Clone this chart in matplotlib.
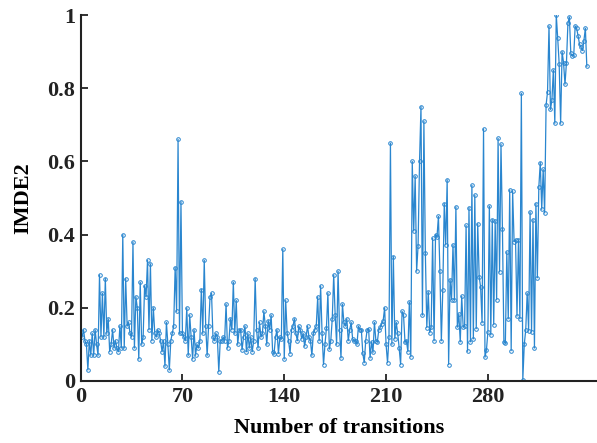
import numpy as np
import matplotlib
matplotlib.use("Agg")
import matplotlib.pyplot as plt

# IMDE2 values (one per transition, starting at 1)
seg_a = [0.12, 0.14, 0.11, 0.10, 0.03, 0.11, 0.07, 0.13, 0.07, 0.14,
         0.10, 0.07, 0.29, 0.12, 0.24, 0.12, 0.28, 0.13, 0.17, 0.08,
         0.10, 0.14, 0.09, 0.11, 0.09, 0.08, 0.15, 0.09, 0.40, 0.09,
         0.28, 0.15, 0.16, 0.13, 0.12, 0.38]
seg_b = [0.09, 0.23, 0.20, 0.06, 0.27, 0.10, 0.12, 0.26, 0.23, 0.33,
         0.14, 0.32, 0.11, 0.20, 0.13, 0.12, 0.14, 0.13, 0.11, 0.08,
         0.11, 0.04, 0.16, 0.10, 0.03, 0.11, 0.13, 0.15, 0.31, 0.19,
         0.66, 0.13, 0.49, 0.13, 0.12, 0.11]
seg_c = [0.20, 0.07, 0.18, 0.12, 0.06, 0.14, 0.07, 0.10, 0.09, 0.11,
         0.25, 0.13, 0.33, 0.15, 0.07, 0.15, 0.23, 0.24, 0.12, 0.11,
         0.13, 0.12, 0.025, 0.11, 0.11, 0.12, 0.11, 0.21, 0.09, 0.11,
         0.17, 0.14, 0.27, 0.13, 0.22, 0.10, 0.14, 0.14]
seg_d = [0.085, 0.12, 0.15, 0.08, 0.13, 0.09, 0.12, 0.08, 0.11, 0.28,
         0.14, 0.09, 0.16, 0.12, 0.13, 0.19, 0.15, 0.10, 0.165, 0.14,
         0.18, 0.08, 0.075, 0.12, 0.14, 0.075, 0.12, 0.115, 0.36, 0.06,
         0.22, 0.13, 0.11, 0.075, 0.14, 0.15, 0.17, 0.13]
seg_e = [0.11, 0.15, 0.14, 0.115, 0.13, 0.095, 0.12, 0.15, 0.12, 0.11,
         0.07, 0.13, 0.14, 0.15, 0.23, 0.11, 0.26, 0.13, 0.045, 0.10,
         0.145, 0.24, 0.087, 0.11, 0.17, 0.29, 0.18, 0.10, 0.30, 0.14,
         0.063, 0.21, 0.16, 0.15, 0.17, 0.11, 0.14, 0.16]
seg_f = [0.115, 0.11, 0.11, 0.10, 0.15, 0.14, 0.14, 0.076, 0.05, 0.11,
         0.14, 0.143, 0.063, 0.107, 0.078, 0.16, 0.11, 0.107, 0.14, 0.147,
         0.156, 0.165, 0.20, 0.10, 0.05, 0.12, 0.65, 0.10, 0.34, 0.115,
         0.16, 0.13, 0.09, 0.045, 0.19, 0.18, 0.107, 0.11]
seg_g = [0.08, 0.216, 0.066, 0.60, 0.41, 0.56, 0.30, 0.37, 0.60, 0.75,
         0.18, 0.71, 0.35, 0.146, 0.244, 0.132, 0.147, 0.39, 0.11, 0.40,
         0.394, 0.45, 0.30, 0.11, 0.25, 0.485, 0.372, 0.55, 0.045, 0.277,
         0.222, 0.372, 0.222, 0.476, 0.147, 0.183, 0.107, 0.232, 0.147]
seg_h = [0.15, 0.425, 0.081, 0.474, 0.107, 0.535, 0.115, 0.508, 0.143, 0.43,
         0.285, 0.256, 0.159, 0.689, 0.065, 0.085, 0.134, 0.478, 0.126, 0.441,
         0.154, 0.438, 0.222, 0.663, 0.298, 0.647, 0.414, 0.107, 0.103, 0.353,
         0.17, 0.522, 0.083, 0.518, 0.381, 0.386, 0.177, 0.386, 0.17]
seg_i = [0.786, 0.003, 0.10, 0.139, 0.24, 0.137, 0.462, 0.134, 0.441, 0.09,
         0.485, 0.282, 0.529, 0.597, 0.469, 0.578, 0.459, 0.754, 0.79, 0.97,
         0.742, 0.767, 0.85, 0.704, 1.0, 0.936, 0.866, 0.704, 0.9, 0.87,
         0.811, 0.87, 0.977, 0.995, 0.895, 0.888, 0.89, 0.97, 0.964, 0.943,
         0.92, 0.912, 0.903, 0.93, 0.964, 0.86]

imde2 = seg_a + seg_b + seg_c + seg_d + seg_e + seg_f + seg_g + seg_h + seg_i
transitions = np.arange(1, len(imde2) + 1)

x_ticks = [0, 70, 140, 210, 280]
y_ticks = [0, 0.2, 0.4, 0.6, 0.8, 1]
y_tick_labels = ["0", "0.2", "0.4", "0.6", "0.8", "1"]

plt.rcParams['font.family'] = ['Liberation Serif', 'DejaVu Serif']
plt.rcParams['font.weight'] = 'bold'

fig = plt.figure(figsize=(5.97, 4.43), dpi=100)
ax = fig.add_axes([0.135, 0.14, 0.865, 0.826])

ax.plot(transitions, imde2, color='#2a86cf', linewidth=0.9,
        marker='o', markersize=2.6, markerfacecolor='none',
        markeredgecolor='#2a86cf', markeredgewidth=0.7)

ax.set_xlim(0, 355)
ax.set_ylim(0, 1)
ax.set_xticks(x_ticks)
ax.set_xticklabels([str(t) for t in x_ticks])
ax.set_yticks(y_ticks)
ax.set_yticklabels(y_tick_labels)

for s in ['top', 'right']:
    ax.spines[s].set_visible(False)
for s in ['left', 'bottom']:
    ax.spines[s].set_linewidth(1.5)
    ax.spines[s].set_color('#222222')

ax.tick_params(direction='in', length=5, width=1.3, labelsize=16,
               colors='#222222', pad=4)
for lbl in ax.get_xticklabels() + ax.get_yticklabels():
    lbl.set_fontweight('bold')

ax.set_xlabel('Number of transitions', fontsize=16, fontweight='bold', labelpad=8)
ax.set_ylabel('IMDE2', fontsize=16, fontweight='bold', labelpad=10)

fig.savefig('out.png', dpi=100)
